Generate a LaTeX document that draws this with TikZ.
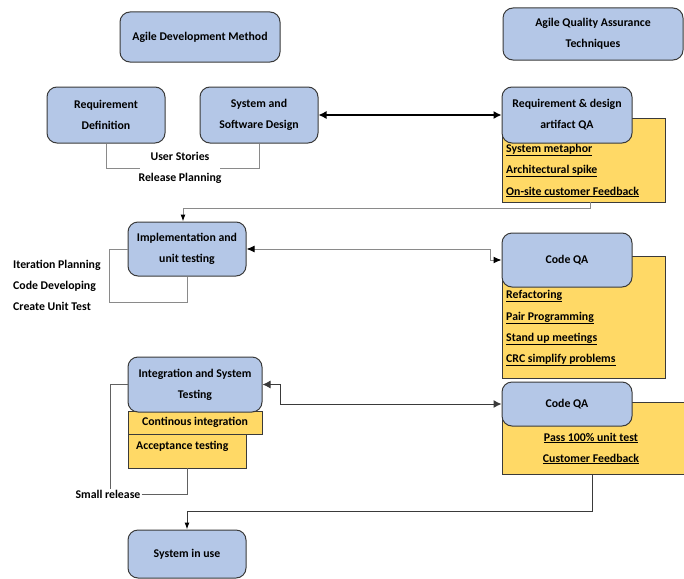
\documentclass[tikz,border=0pt]{standalone}
\usepackage{fontspec}
\setmainfont{Carlito}
\usetikzlibrary{arrows.meta}
\definecolor{qblue}{HTML}{B4C7E7}
\definecolor{qyel}{HTML}{FFD966}
\definecolor{qedge}{HTML}{3A3A3A}
\definecolor{qgray}{HTML}{8A8A8A}
\tikzset{
  txtfont/.style={font=\bfseries\fontsize{11.8}{21}\selectfont},
  bluebox/.style={draw=qedge, line width=1pt, fill=qblue, rounded corners=10pt, align=center, inner sep=2pt, txtfont},
  yelbox/.style={draw=qedge, line width=0.8pt, fill=qyel, inner sep=0pt},
  itemtxt/.style={txtfont, inner sep=1pt},
  lbl/.style={txtfont, inner sep=1pt},
  bracket/.style={draw=qgray, line width=1pt},
  dblarrow/.style={draw=black, line width=1.2pt, {Latex[length=8pt,width=8pt]}-{Latex[length=8pt,width=8pt]}},
  gdbl/.style={draw=qgray, line width=1pt, {Latex[black,length=8pt,width=7pt]}-{Latex[black,length=8pt,width=7pt]}},
  garrow/.style={draw=qgray, line width=1pt, -{Latex[black,length=7pt,width=5pt]}},
  darrow/.style={draw=qedge, line width=1pt, -{Latex[black,length=7pt,width=5pt]}}
}
\begin{document}
\begin{tikzpicture}[x=1pt,y=-1pt]
\useasboundingbox (0,0) rectangle (684,578);
% yellow boxes (behind)
\node[yelbox, minimum width=163pt, minimum height=84pt] (rqay) at (583.5,160) {};
\node[yelbox, minimum width=163pt, minimum height=122pt] (cqa1y) at (583.5,317) {};
\node[yelbox, minimum width=182pt, minimum height=72pt] (cqa2y) at (593,438) {};
\node[yelbox, minimum width=118pt, minimum height=34pt] (at) at (187,451) {};
\node[lbl, anchor=west] (att) at (135,446) {Acceptance testing};
\node[yelbox, minimum width=134pt, minimum height=23pt, txtfont] (ci) at (195,422.5) {Continous integration};
% blue boxes
\node[bluebox, minimum width=160pt, minimum height=50pt] (adm) at (200,37) {Agile Development Method};
\node[bluebox, minimum width=180pt, minimum height=52pt] (aqa) at (593,34) {Agile Quality Assurance\\Techniques};
\node[bluebox, minimum width=118pt, minimum height=56pt] (rd) at (106,115) {Requirement\\Definition};
\node[bluebox, minimum width=118pt, minimum height=56pt] (ssd) at (259,115) {System and\\Software Design};
\node[bluebox, minimum width=130pt, minimum height=56pt] (rqa) at (567,115) {Requirement \& design\\artifact QA};
\node[bluebox, minimum width=118pt, minimum height=54pt] (impl) at (187,249) {Implementation and\\unit testing};
\node[bluebox, minimum width=130pt, minimum height=54pt] (cqa1) at (567,260) {Code QA};
\node[bluebox, minimum width=134pt, minimum height=55pt] (ist) at (195,384.5) {Integration and System\\Testing};
\node[bluebox, minimum width=130pt, minimum height=44pt] (cqa2) at (567,404) {Code QA};
\node[bluebox, minimum width=118pt, minimum height=48pt] (siu) at (187,554) {System in use};
% yellow box texts
\node[itemtxt, anchor=west] (r1) at (505,150) {\underline{System metaphor}};
\node[itemtxt, anchor=west] (r2) at (505,171) {\underline{Architectural spike}};
\node[itemtxt, anchor=west] (r3) at (505,192) {\underline{On-site customer Feedback}};
\node[itemtxt, anchor=west] (c1) at (505,296) {\underline{Refactoring}};
\node[itemtxt, anchor=west] (c2) at (505,318) {\underline{Pair Programming}};
\node[itemtxt, anchor=west] (c3) at (505,339) {\underline{Stand up meetings}};
\node[itemtxt, anchor=west] (c4) at (505,360) {\underline{CRC simplify problems}};
\node[itemtxt] (p1) at (591,438) {\underline{Pass 100\% unit test}};
\node[itemtxt] (p2) at (591,459) {\underline{Customer Feedback}};
% labels
\node[lbl, align=center] (us) at (180,168) {User Stories\\Release Planning};
\node[lbl, align=left, anchor=west] (ip) at (12,285) {Iteration Planning\\Code Developing\\Create Unit Test};
\node[lbl] (sr) at (108,494) {Small release};
% connectors
\draw[dblarrow] (ssd.east) -- (rqa.west);
\draw[bracket] (rd.south) |- ([xshift=3pt]us.west);
\draw[bracket] (ssd.south) |- ([xshift=-3pt]us.east);
\draw[garrow] ([xshift=7pt]rqay.south) -- ++(0,6) -| ([xshift=-4pt]impl.north);
\draw[bracket] (impl.west) -| ++(-18,53) -| (impl.south);
\draw[gdbl] (impl.east) -- ++(244,0) |- (cqa1.west);
\draw[dblarrow, line width=1pt, draw=qedge] (ist.east) -- ++(18,0) |- (cqa2.west);
\draw[bracket, draw=qedge!80] (ist.west) -| ([xshift=2pt]sr.north);
\draw[bracket, draw=qedge!80] (sr.east) -| (at.south);
\draw[darrow] ([xshift=-1pt]cqa2y.south) -- ++(0,37) -| (siu.north);
\end{tikzpicture}
\end{document}
